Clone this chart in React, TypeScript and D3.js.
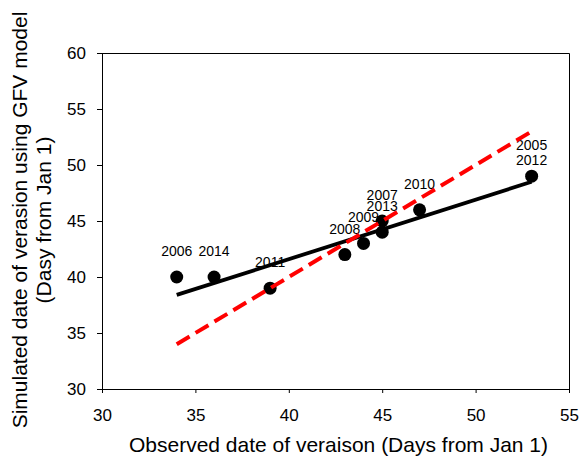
import React, { useRef, useEffect } from 'react'
import * as d3 from 'd3'

// observed vs simulated veraison dates (days from Jan 1)
const years = ['2006', '2014', '2011', '2008', '2009', '2007', '2013', '2010', '2005/2012']
const observed = [34, 36, 39, 43, 44, 45, 45, 47, 53]
const simulated = [40, 40, 39, 42, 43, 45, 44, 46, 49]

// fitted regression (solid) and 1:1 line (dashed)
const fitX = [34, 53]
const fitY = [38.4, 48.5]
const oneToOneX = [34, 53]
const oneToOneY = [34, 53]

const xTicks = [30, 35, 40, 45, 50, 55]
const yTicks = [30, 35, 40, 45, 50, 55, 60]

const W = 581
const H = 457
const FONT = '"Liberation Sans", Arial, sans-serif'

export default function App() {
    const svgRef = useRef<SVGSVGElement>(null)

    useEffect(() => {
        const svg = d3.select(svgRef.current)
        svg.selectAll('*').remove()

        const margin = { top: 53, right: 12, bottom: 68, left: 102 }
        const x = d3.scaleLinear().domain([30, 55]).range([margin.left, W - margin.right])
        const y = d3.scaleLinear().domain([30, 60]).range([H - margin.bottom, margin.top])

        // frame (top + right)
        svg.append('path')
            .attr('d', `M${x(30)},${y(60) + 0.5}H${x(55) + 0.5}V${y(30)}`)
            .attr('fill', 'none')
            .attr('stroke', '#000')

        const xAxis = svg.append('g')
            .attr('transform', `translate(0,${y(30)})`)
            .call(d3.axisBottom(x).tickValues(xTicks).tickSize(4).tickPadding(15))
        const yAxis = svg.append('g')
            .attr('transform', `translate(${x(30)},0)`)
            .call(d3.axisLeft(y).tickValues(yTicks).tickSize(5).tickPadding(11))
        ;[xAxis, yAxis].forEach(a => {
            a.selectAll('text').style('font-family', FONT).style('font-size', '17px').attr('fill', '#000')
            a.select('.domain').attr('stroke', '#000')
        })
        xAxis.selectAll('text').attr('dy', '0.74em')

        // labels
        const labels = svg.append('g')
            .style('font-family', FONT)
            .style('font-size', '14px')
            .attr('text-anchor', 'middle')
            .attr('fill', '#000')
        years.forEach((yr, i) => {
            const parts = yr.split('/')
            parts.forEach((p, j) => {
                // stacked labels sit a bit lower
                const dy = parts.length > 1 ? -11 - (parts.length - 1 - j) * 15 : -21
                labels.append('text')
                    .attr('x', x(observed[i]))
                    .attr('y', y(simulated[i]) + dy)
                    .text(p)
            })
        })

        // points
        svg.append('g').selectAll('circle')
            .data(observed)
            .enter().append('circle')
            .attr('cx', d => x(d))
            .attr('cy', (d, i) => y(simulated[i]))
            .attr('r', 6.5)
            .attr('fill', '#000')

        const line = d3.line<number>()
            .x(d => x(d))

        svg.append('path')
            .attr('d', line.y((d, i) => y(fitY[i]))(fitX))
            .attr('fill', 'none')
            .attr('stroke', '#000')
            .attr('stroke-width', 3.8)

        svg.append('path')
            .attr('d', line.y((d, i) => y(oneToOneY[i]))(oneToOneX))
            .attr('fill', 'none')
            .attr('stroke', '#ff0000')
            .attr('stroke-width', 4)
            .attr('stroke-dasharray', '15,7')

        // axis titles
        svg.append('text')
            .attr('x', (x(30) + x(55)) / 2 + 3)
            .attr('y', 452)
            .attr('text-anchor', 'middle')
            .style('font-family', FONT)
            .style('font-size', '21px')
            .text('Observed date of veraison (Days from Jan 1)')

        const yt = svg.append('text')
            .attr('transform', `translate(27,220) rotate(-90)`)
            .attr('text-anchor', 'middle')
            .style('font-family', FONT)
            .style('font-size', '21px')
        yt.append('tspan').attr('x', 0).attr('y', 0).text('Simulated date of verasion using GFV model')
        yt.append('tspan').attr('x', 0).attr('y', 24).text('(Dasy from Jan 1)')
    }, [])

    return (
        <svg
            ref={svgRef}
            width={W}
            height={H}
            style={{ position: 'absolute', left: 0, top: 0, background: '#fff' }}
        />
    )
}
